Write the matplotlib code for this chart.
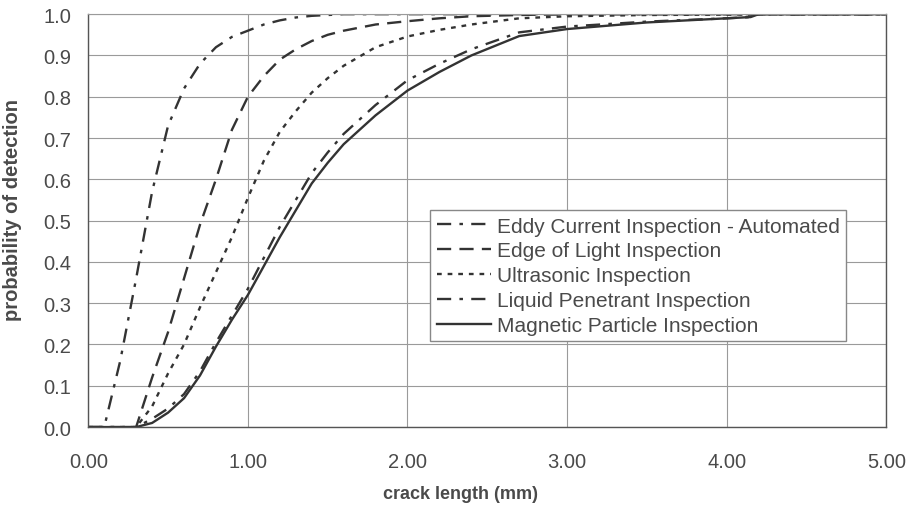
import matplotlib
matplotlib.use("Agg")
import matplotlib.pyplot as plt

# crack length (mm) grid the curves were read on
crack_mm = [0.0, 0.1, 0.2, 0.3, 0.4, 0.5, 0.6, 0.7, 0.8, 0.9, 1.0, 1.1, 1.2, 1.3,
            1.4, 1.5, 1.6, 1.8, 2.0, 2.2, 2.4, 2.7, 3.0, 3.5, 4.0, 4.15, 4.2, 5.0]

# probability of detection
pod_eddy = [0.0, 0.0, 0.16, 0.36, 0.57, 0.73, 0.82, 0.88, 0.92, 0.945, 0.96, 0.975, 0.985, 0.992,
            0.996, 0.998, 1.0, 1.0, 1.0, 1.0, 1.0, 1.0, 1.0, 1.0, 1.0, 1.0, 1.0, 1.0]
pod_edge = [0.0, 0.0, 0.0, 0.0, 0.12, 0.23, 0.36, 0.49, 0.6, 0.72, 0.8, 0.85, 0.89, 0.915,
            0.935, 0.95, 0.96, 0.975, 0.983, 0.99, 0.995, 0.998, 1.0, 1.0, 1.0, 1.0, 1.0, 1.0]
pod_ultra = [0.0, 0.0, 0.0, 0.0, 0.05, 0.13, 0.2, 0.29, 0.375, 0.46, 0.555, 0.645, 0.715, 0.765,
             0.81, 0.845, 0.875, 0.92, 0.946, 0.962, 0.975, 0.99, 0.995, 0.998, 0.999, 0.999, 1.0, 1.0]
pod_liquid = [0.0, 0.0, 0.0, 0.0, 0.02, 0.045, 0.08, 0.135, 0.205, 0.27, 0.335, 0.41, 0.485, 0.55,
              0.615, 0.665, 0.71, 0.78, 0.84, 0.88, 0.915, 0.956, 0.97, 0.982, 0.99, 0.993, 1.0, 1.0]
pod_magnetic = [0.0, 0.0, 0.0, 0.0, 0.01, 0.035, 0.07, 0.125, 0.195, 0.26, 0.32, 0.39, 0.46, 0.525,
                0.59, 0.64, 0.685, 0.755, 0.815, 0.86, 0.9, 0.947, 0.964, 0.98, 0.99, 0.993, 1.0, 1.0]

labels = ["Eddy Current Inspection - Automated", "Edge of Light Inspection",
          "Ultrasonic Inspection", "Liquid Penetrant Inspection", "Magnetic Particle Inspection"]
x_ticks = [0, 1, 2, 3, 4, 5]
y_ticks = [0.0, 0.1, 0.2, 0.3, 0.4, 0.5, 0.6, 0.7, 0.8, 0.9, 1.0]

plt.rcParams['font.family'] = ['Liberation Sans', 'DejaVu Sans']
ink = '#333333'
txt = '#4a4a4a'

fig = plt.figure(figsize=(9.1, 5.06), dpi=100)
ax = fig.add_axes([0.097, 0.154, 0.877, 0.816])

lw = 1.7
ax.plot(crack_mm, pod_eddy, color=ink, lw=lw, dashes=(6, 3.5, 1.5, 3.5), label=labels[0])
ax.plot(crack_mm, pod_edge, color=ink, lw=lw, dashes=(6, 3.5), label=labels[1])
ax.plot(crack_mm, pod_ultra, color=ink, lw=lw, dashes=(2, 2.5), label=labels[2])
ax.plot(crack_mm, pod_liquid, color=ink, lw=lw, dashes=(6, 3.5, 1.5, 3.5), label=labels[3])
ax.plot(crack_mm, pod_magnetic, color=ink, lw=lw, label=labels[4])

ax.set_xlim(0, 5)
ax.set_ylim(0, 1)
ax.set_xticks(x_ticks)
ax.set_xticklabels([f"{v:.2f}" for v in x_ticks])
ax.set_yticks(y_ticks)
ax.set_yticklabels([f"{v:.1f}" for v in y_ticks])
ax.tick_params(axis='x', length=0, pad=18, labelsize=14.5, labelcolor=txt)
ax.tick_params(axis='y', length=0, pad=12, labelsize=14.5, labelcolor=txt)

ax.grid(True, color='#9a9a9a', lw=0.8)
ax.set_axisbelow(True)
for side in ['left', 'bottom', 'right']:
    ax.spines[side].set_color('#555555')
    ax.spines[side].set_linewidth(1.0)
ax.spines['top'].set_color('#9a9a9a')
ax.spines['top'].set_linewidth(0.8)

ax.set_xlabel("crack length (mm)", fontsize=13, fontweight='bold', color=txt)
ax.xaxis.set_label_coords(0.467, -0.14)
ax.set_ylabel("probability of detection", fontsize=14.5, fontweight='bold', color=txt)
ax.yaxis.set_label_coords(-0.083, 0.528)

leg = ax.legend(loc='upper left', bbox_to_anchor=(0.4286, 0.525), fontsize=15,
                frameon=True, fancybox=False, framealpha=1, edgecolor='#888888',
                handlelength=2.6, handletextpad=0.3, labelspacing=0.28, borderpad=0.3,
                borderaxespad=0)
leg.get_frame().set_linewidth(1.0)
for t in leg.get_texts():
    t.set_color(txt)

fig.savefig("out.png", dpi=100)
